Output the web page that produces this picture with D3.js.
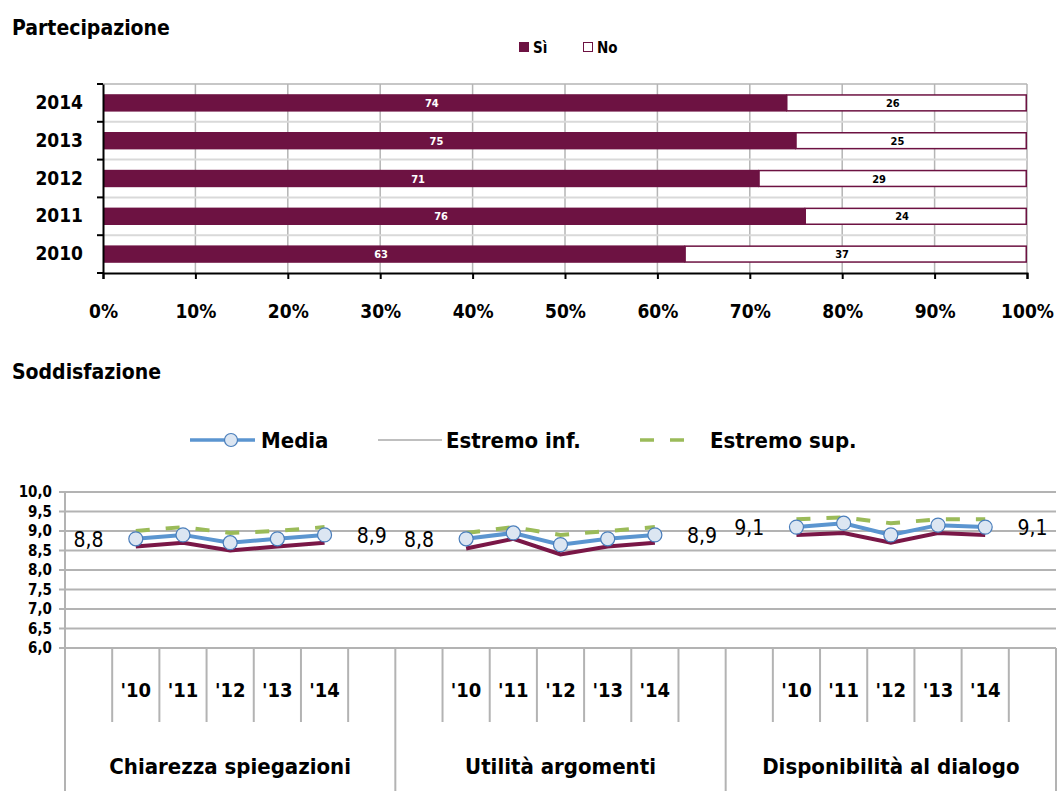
<!DOCTYPE html>
<html>
<head>
<meta charset="utf-8">
<style>
  body { margin: 0; background: #fff; }
  svg text { font-family: "Liberation Sans Narrow", "DejaVu Sans Condensed", "DejaVu Sans", sans-serif; font-stretch: condensed; font-weight: bold; fill: #000; }
  .lbl { font-family: "DejaVu Sans", sans-serif; font-stretch: condensed; font-weight: normal; }
</style>
</head>
<body>
<div id="chart"></div>
<script src="https://d3js.org/d3.v7.min.js"></script>
<script>
// --- Partecipazione ---
var years = ["2014", "2013", "2012", "2011", "2010"];
var si = [74, 75, 71, 76, 63];
var no = [26, 25, 29, 24, 37];

// --- Soddisfazione ---
var groups = ["Chiarezza spiegazioni", "Utilità argomenti", "Disponibilità al dialogo"];
var yearLabels = ["'10", "'11", "'12", "'13", "'14"];
var media = [[8.8, 8.9, 8.7, 8.8, 8.9], [8.8, 8.95, 8.65, 8.8, 8.9], [9.1, 9.2, 8.9, 9.15, 9.1]];
var inf = [[8.6, 8.7, 8.5, 8.6, 8.7], [8.55, 8.8, 8.4, 8.6, 8.7], [8.9, 8.95, 8.7, 8.95, 8.9]];
var sup = [[9.0, 9.1, 8.95, 9.0, 9.1], [8.95, 9.1, 8.9, 9.0, 9.1], [9.3, 9.35, 9.2, 9.3, 9.3]];
var yTicks = [6.0, 6.5, 7.0, 7.5, 8.0, 8.5, 9.0, 9.5, 10.0];

var purple = "#6d1242";
var svg = d3.select("#chart").append("svg")
  .attr("width", 1061).attr("height", 791);

// ================= top chart =================
svg.append("text").attr("x", 12).attr("y", 35).style("font-size", "21px").text("Partecipazione");

// legend
var lg = svg.append("g");
lg.append("rect").attr("x", 519).attr("y", 42).attr("width", 10).attr("height", 10).attr("fill", purple);
lg.append("text").attr("x", 533).attr("y", 53).style("font-size", "15px").text("Sì");
lg.append("rect").attr("x", 583.5).attr("y", 42.5).attr("width", 9).attr("height", 9).attr("fill", "#fff").attr("stroke", purple);
lg.append("text").attr("x", 597).attr("y", 53).style("font-size", "15px").text("No");

var x = d3.scaleLinear().domain([0, 100]).range([103, 1027]);
var y = d3.scaleBand().domain(years).range([84, 273]).paddingInner(0.54).paddingOuter(0.27);
var yb = d3.scaleBand().domain(years).range([84, 273]);

var topG = svg.append("g");
// gridlines
topG.selectAll(".vg").data(x.ticks(10).slice(1)).enter().append("line")
  .attr("x1", function(d) { return x(d); }).attr("x2", function(d) { return x(d); })
  .attr("y1", 84).attr("y2", 273).attr("stroke", "#b5b5b5").attr("stroke-width", 1.5);
topG.selectAll(".hg").data(years.slice(1)).enter().append("line")
  .attr("x1", 103).attr("x2", 1027)
  .attr("y1", function(d) { return yb(d); }).attr("y2", function(d) { return yb(d); })
  .attr("stroke", "#d9d9d9").attr("stroke-width", 2);
topG.append("line").attr("x1", 103).attr("x2", 1027).attr("y1", 84).attr("y2", 84)
  .attr("stroke", "#b5b5b5").attr("stroke-width", 1.5);

// bars
years.forEach(function(yr, i) {
  topG.append("rect").attr("x", x(0)).attr("y", y(yr))
    .attr("width", x(si[i]) - x(0)).attr("height", y.bandwidth()).attr("fill", purple);
  topG.append("rect").attr("x", x(si[i])).attr("y", y(yr) + 0.75)
    .attr("width", x(100) - x(si[i]) - 0.75).attr("height", y.bandwidth() - 1.5)
    .attr("fill", "#fff").attr("stroke", purple).attr("stroke-width", 1.5);
  topG.append("text").attr("x", x(si[i] / 2) - 13).attr("y", y(yr) + y.bandwidth() / 2 + 4)
    .attr("text-anchor", "middle").style("font-size", "11px").style("fill", "#fff").text(si[i]);
  topG.append("text").attr("x", x(si[i] + no[i] / 2) - 14).attr("y", y(yr) + y.bandwidth() / 2 + 4)
    .attr("text-anchor", "middle").style("font-size", "11px").text(no[i]);
});

// axes
var xAxis = topG.append("g").attr("transform", "translate(0,273)")
  .call(d3.axisBottom(x).ticks(10).tickSize(6).tickFormat(function(d) { return d + "%"; }));
var yAxis = topG.append("g").attr("transform", "translate(103,0)")
  .call(d3.axisLeft(yb).tickSize(0));
yAxis.attr("font-family", null).attr("font-size", null);
xAxis.attr("font-family", null).attr("font-size", null);
xAxis.select(".domain").attr("stroke", "#000").attr("stroke-width", 2);
xAxis.selectAll(".tick line").attr("stroke", "#000").attr("stroke-width", 2);
xAxis.selectAll("text").attr("dy", 0).attr("y", 45).style("font-size", "19px");
yAxis.select(".domain").attr("stroke", "#000").attr("stroke-width", 2);
yAxis.selectAll("text").attr("x", -20).style("font-size", "19px");
yAxis.selectAll(".bt").data(yb.domain().concat(["end"])).enter().append("line")
  .attr("x1", -6).attr("x2", 0)
  .attr("y1", function(d) { return d === "end" ? 273 : yb(d); })
  .attr("y2", function(d) { return d === "end" ? 273 : yb(d); })
  .attr("stroke", "#000").attr("stroke-width", 2);

// ================= bottom chart =================
svg.append("text").attr("x", 12).attr("y", 379).style("font-size", "21px").text("Soddisfazione");

var blue = "#5b95d0", green = "#9bbb59", maroon = "#7a1747";

// legend
var lb = svg.append("g").attr("transform", "translate(0,440)");
lb.append("line").attr("x1", 190).attr("x2", 255).attr("stroke", blue).attr("stroke-width", 3.5);
lb.append("circle").attr("cx", 231).attr("cy", 0).attr("r", 6.5)
  .attr("fill", "#dce6f2").attr("stroke", "#4a7ebb").attr("stroke-width", 1.2);
lb.append("text").attr("x", 261).attr("y", 8).style("font-size", "22px").text("Media");
lb.append("line").attr("x1", 378).attr("x2", 442).attr("stroke", "#bfbfbf").attr("stroke-width", 2);
lb.append("text").attr("x", 446).attr("y", 8).style("font-size", "22px").text("Estremo inf.");
lb.append("line").attr("x1", 640).attr("x2", 700).attr("stroke", green).attr("stroke-width", 3.5)
  .attr("stroke-dasharray", "14,16");
lb.append("text").attr("x", 710).attr("y", 8).style("font-size", "22px").text("Estremo sup.");

// scales
var slots = [];
groups.forEach(function(g, gi) { for (var s = 0; s < 7; s++) slots.push(gi + "-" + s); });
var xs = d3.scaleBand().domain(slots).range([65, 1056]);
var ys = d3.scaleLinear().domain([6, 10]).range([648, 492]);
var cx = function(gi, s) { return xs(gi + "-" + s) + xs.bandwidth() / 2; };

var bot = svg.append("g");
bot.selectAll(".hg").data(yTicks).enter().append("line")
  .attr("x1", 59).attr("x2", 1056)
  .attr("y1", function(d) { return ys(d); }).attr("y2", function(d) { return ys(d); })
  .attr("stroke", "#b3b3b3").attr("stroke-width", 2);
bot.selectAll(".yl").data(yTicks).enter().append("text")
  .attr("x", 52).attr("y", function(d) { return ys(d) + 5; })
  .attr("text-anchor", "end").style("font-size", "15px")
  .text(function(d) { return d3.format(".1f")(d).replace(".", ","); });

// category axis lines
bot.append("line").attr("x1", 65).attr("x2", 65).attr("y1", 492).attr("y2", 791)
  .attr("stroke", "#b3b3b3").attr("stroke-width", 2);
bot.append("line").attr("x1", 1056).attr("x2", 1056).attr("y1", 648).attr("y2", 791)
  .attr("stroke", "#b3b3b3").attr("stroke-width", 2);
groups.forEach(function(g, gi) {
  for (var s = 1; s < 7; s++) {
    var xx = xs(gi + "-" + s);
    bot.append("line").attr("x1", xx).attr("x2", xx).attr("y1", 648).attr("y2", 722)
      .attr("stroke", "#b3b3b3").attr("stroke-width", 2);
  }
  if (gi > 0) {
    var gx = xs(gi + "-0");
    bot.append("line").attr("x1", gx).attr("x2", gx).attr("y1", 648).attr("y2", 791)
      .attr("stroke", "#b3b3b3").attr("stroke-width", 2);
  }
  yearLabels.forEach(function(yl, k) {
    bot.append("text").attr("x", cx(gi, k + 1)).attr("y", 697).attr("text-anchor", "middle")
      .style("font-size", "20px").text(yl);
  });
  bot.append("text").attr("x", (xs(gi + "-0") + xs(gi + "-6") + xs.bandwidth()) / 2).attr("y", 774)
    .attr("text-anchor", "middle").style("font-size", "22px").text(g);
});

// series
var line = d3.line().x(function(d) { return d[0]; }).y(function(d) { return ys(d[1]); });
groups.forEach(function(g, gi) {
  var pts = function(arr) { return arr[gi].map(function(v, k) { return [cx(gi, k + 1), v]; }); };
  bot.append("path").attr("d", line(pts(sup))).attr("fill", "none")
    .attr("stroke", green).attr("stroke-width", 4).attr("stroke-dasharray", "14,16");
  bot.append("path").attr("d", line(pts(inf))).attr("fill", "none")
    .attr("stroke", maroon).attr("stroke-width", 4);
  bot.append("path").attr("d", line(pts(media))).attr("fill", "none")
    .attr("stroke", blue).attr("stroke-width", 4);
  pts(media).forEach(function(p) {
    bot.append("circle").attr("cx", p[0]).attr("cy", ys(p[1])).attr("r", 7)
      .attr("fill", "#dce6f2").attr("stroke", "#4a7ebb").attr("stroke-width", 1.2);
  });
  var first = media[gi][0], last = media[gi][4];
  bot.append("text").attr("class", "lbl").attr("x", cx(gi, 0)).attr("y", ys(first) + 8)
    .attr("text-anchor", "middle").style("font-size", "21px")
    .text(d3.format(".1f")(first).replace(".", ","));
  bot.append("text").attr("class", "lbl").attr("x", cx(gi, 6)).attr("y", ys(last) + 8)
    .attr("text-anchor", "middle").style("font-size", "21px")
    .text(d3.format(".1f")(last).replace(".", ","));
});
</script>
</body>
</html>
